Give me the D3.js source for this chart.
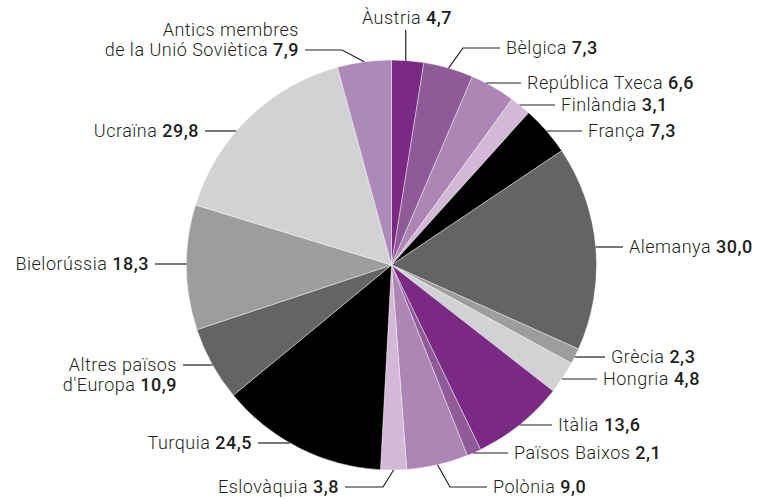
<!DOCTYPE html>
<html lang="ca">
<head>
<meta charset="UTF-8">
<title>Pie</title>
<script src="https://d3js.org/d3.v7.min.js"></script>
<style>
  body, html { margin: 0; padding: 0; background: #fff; overflow: hidden; }
  svg { display: block; }
  text { font-family: Roboto, "Noto Sans", sans-serif; font-size: 18px; letter-spacing: 0.5px; fill: #231f20; }
  .name { font-weight: 300; }
  .val { font-weight: 500; }
</style>
</head>
<body>
<svg width="759" height="499"></svg>
<script>
// data (clockwise from 12 o'clock)
const names = ["Àustria", "Bèlgica", "República Txeca", "Finlàndia", "França", "Alemanya",
  "Grècia", "Hongria", "Itàlia", "Països Baixos", "Polònia", "Eslovàquia", "Turquia",
  "Altres països|d'Europa", "Bielorússia", "Ucraïna", "Antics membres|de la Unió Soviètica"];
const values = [4.7, 7.3, 6.6, 3.1, 7.3, 30.0, 2.3, 4.8, 13.6, 2.1, 9.0, 3.8, 24.5, 10.9, 18.3, 29.8, 7.9];
const colors = ["#7b2a84", "#8f5a98", "#ad86b6", "#d2b9d5", "#000000", "#636466", "#9c9d9f",
  "#d1d2d4", "#7b2a84", "#8f5a98", "#ad86b6", "#d2b9d5", "#000000", "#636466", "#9c9d9f",
  "#d1d2d4", "#ad89b9"];

// label layout: line y, end of line x, optional elbow x, side
const layout = [
  {vertical: true, y: 30, tx: 407, ty: 18},
  {y: 48, end: 500, elbow: 463, side: 1},
  {y: 83, end: 521, side: 1},
  {y: 105, end: 555, side: 1},
  {y: 131, end: 582, side: 1},
  {y: 247, end: 623, side: 1},
  {y: 357, end: 605, side: 1},
  {y: 379, end: 597, side: 1},
  {y: 425, end: 552, side: 1},
  {y: 453, end: 508, side: 1},
  {y: 487, end: 487, elbow: 450, side: 1},
  {y: 487, end: 345, elbow: 383, side: -1},
  {y: 443, end: 258, side: -1},
  {y: 365, end: 183, side: -1},
  {y: 264, end: 155, side: -1},
  {y: 131, end: 205, side: -1},
  {y: 50, end: 305, elbow: 342, side: -1, up: true}
];

const cx = 391.5, cy = 265, r = 205;
const svg = d3.select("svg");
const g = svg.append("g").attr("transform", `translate(${cx},${cy})`);

const pie = d3.pie().sort(null).value(d => d);
const arcs = pie(values);
const arc = d3.arc().innerRadius(0).outerRadius(r);

g.selectAll("path").data(arcs).join("path")
  .attr("d", arc)
  .attr("fill", (d, i) => colors[i])
  .attr("stroke", "#fff")
  .attr("stroke-width", 0.4);

const fmt = v => d3.format(".1f")(v).replace(".", ",");
const lines = svg.append("g").attr("fill", "none").attr("stroke", "#231f20").attr("stroke-width", 1.2);
const labels = svg.append("g");

arcs.forEach((d, i) => {
  const L = layout[i];
  const mid = (d.startAngle + d.endAngle) / 2;
  const px = cx + r * Math.sin(mid), py = cy - r * Math.cos(mid);
  let pts;
  if (L.vertical) {
    pts = [[px - 2, py], [px - 2, L.y]];
  } else if (L.elbow !== undefined) {
    pts = [[px, py], [L.elbow, L.y], [L.end, L.y]];
  } else {
    const sx = cx + L.side * Math.sqrt(r * r - (L.y - cy) * (L.y - cy));
    pts = [[sx, L.y], [L.end, L.y]];
  }
  lines.append("path").attr("d", d3.line()(pts));

  const parts = names[i].split("|");
  if (L.vertical) {
    const t = labels.append("text").attr("x", L.tx).attr("y", L.ty).attr("dy", "0.35em").attr("text-anchor", "middle");
    t.append("tspan").attr("class", "name").text(parts[0] + " ");
    t.append("tspan").attr("class", "val").text(fmt(values[i]));
    return;
  }
  const tx = L.end + L.side * 6;
  const anchor = L.side > 0 ? "start" : "end";
  const lineH = 20;
  const firstY = (parts.length > 1 && L.up) ? L.y - lineH * (parts.length - 1) : L.y;
  parts.forEach((p, k) => {
    const t = labels.append("text").attr("x", tx).attr("y", firstY + k * lineH)
      .attr("dy", "0.35em").attr("text-anchor", anchor);
    t.append("tspan").attr("class", "name").text(p + (k === parts.length - 1 ? " " : ""));
    if (k === parts.length - 1) t.append("tspan").attr("class", "val").text(fmt(values[i]));
  });
});
</script>
</body>
</html>
